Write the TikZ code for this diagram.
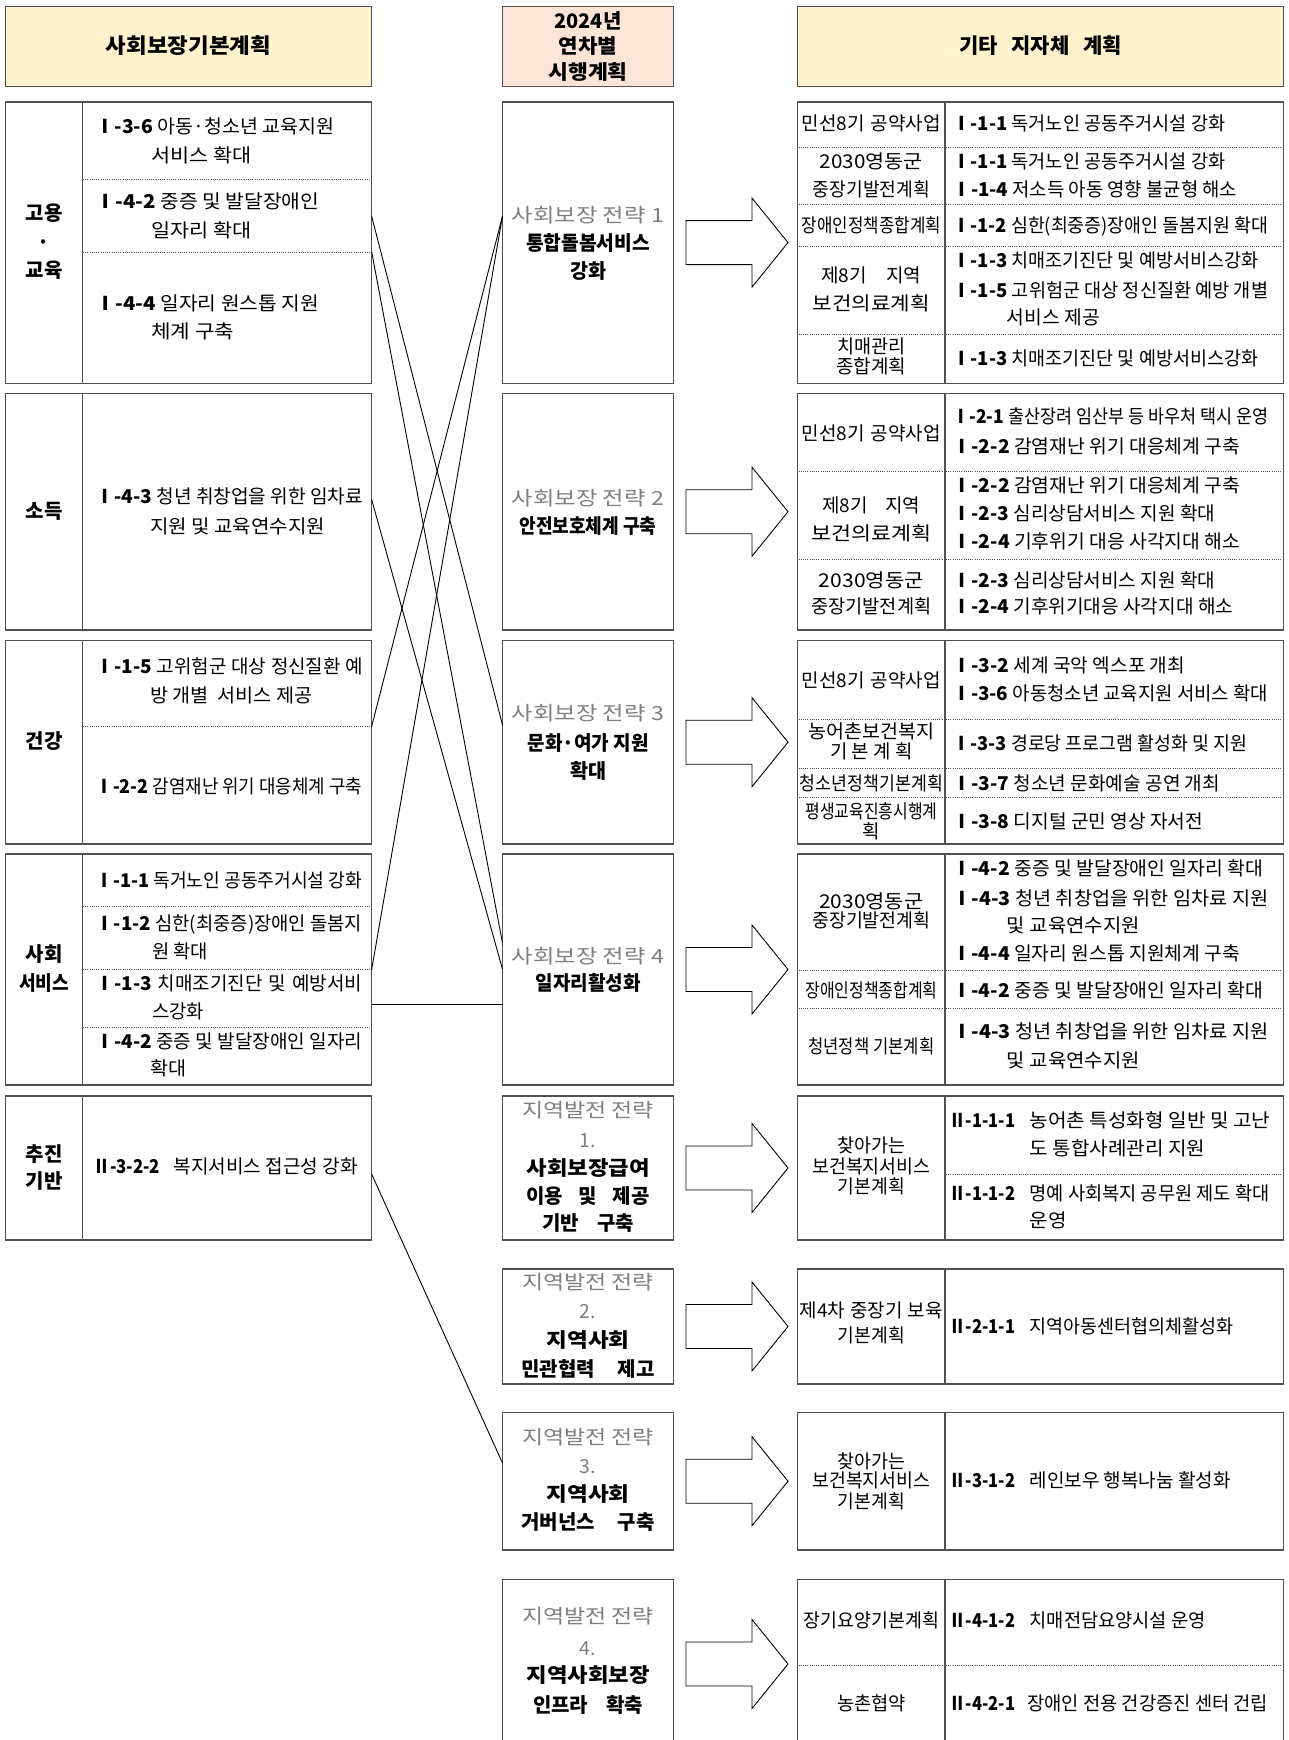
\documentclass[tikz,border=0pt]{standalone}
\usepackage{fontspec}
\setmainfont{Noto Sans CJK KR}
\usepackage{graphicx}
\definecolor{hdry}{HTML}{FFF2CC}
\definecolor{hdrp}{HTML}{FCE4D6}
\definecolor{bordc}{HTML}{505050}
\definecolor{graytxt}{HTML}{808080}
\newlength\fitlen
\newcommand\fs{\fontsize{19}{22}\selectfont}
\newcommand\hfs{\fontsize{21}{25}\selectfont\bfseries}
\newcommand\mfs{\fontsize{20}{24}\selectfont\bfseries}
\newcommand\sq[2]{\resizebox{#1pt}{\height}{#2}}
\newcommand\jw[2]{\settowidth\fitlen{#2}\ifdim\fitlen>#1pt\relax\resizebox{#1pt}{\height}{#2}\else\makebox[#1pt][s]{#2}\fi}
\newcommand\TL[6][]{\node[ln,#1] (#2) at (#3,#4) {\sq{#5}{#6}};}
\newcommand\TJ[6][]{\node[ln,#1] (#2) at (#3,#4) {\jw{#5}{#6}};}
\newcommand\TC[6][]{\node[lc,#1] (#2) at (#3,#4) {\sq{#5}{#6}};}
\newcommand\TCJ[6][]{\node[lc,#1] (#2) at (#3,#4) {\jw{#5}{#6}};}
\newcommand\TCn[5][]{\node[lc,#1] (#2) at (#3,#4) {#5};}
\newcommand\bx[6][]{\node[box,#1,minimum width={#5-#3},minimum height={#6-#4}] (#2) at ({(#3+#5)/2},{(#4+#6)/2}) {};}
\begin{document}
\begin{tikzpicture}[x=1pt,y=-1pt,
  box/.style={draw=bordc, line width=1.3pt, inner sep=0pt, outer sep=0pt, anchor=center},
  sepl/.style={draw=black!70, line width=0.9pt, dash pattern=on 1pt off 1.2pt},
  divl/.style={draw=bordc, line width=1.3pt},
  conn/.style={draw=black, line width=0.9pt},
  barrow/.style={draw=black, line width=0.9pt, fill=white},
  ln/.style={anchor=base west, inner sep=0pt, yshift=-7pt, font=\fs},
  lc/.style={anchor=base, inner sep=0pt, yshift=-7pt, font=\fs},
  gtx/.style={text=graytxt, font=\fontsize{19.5}{22}\selectfont}]
\useasboundingbox (0,0) rectangle (1289,1740);
\fill[white] (0,0) rectangle (1289,1740);

% ---------- headers
\bx[fill=hdry]{Lh}{5.5}{6.7}{371.6}{86.5}
\bx[fill=hdrp]{Mh}{502.5}{6.7}{673.3}{86.5}
\bx[fill=hdry]{Rh}{797.6}{6.7}{1283.5}{86.5}
\TC[font=\hfs]{tLh}{188.5}{46.6}{165}{사회보장기본계획}
\TC[font=\mfs]{tMh1}{588}{21.5}{67}{2024년}
\TC[font=\mfs]{tMh2}{588}{46.6}{58.5}{연차별}
\TC[font=\mfs]{tMh3}{588}{72}{79.4}{시행계획}
\TCJ[font=\hfs]{tRh}{1040.5}{46.6}{163}{기타 지자체 계획}

% ---------- left boxes
\bx{LG1}{5.5}{102}{371.6}{383.3}
\bx{LG2}{5.5}{393.5}{371.6}{630}
\bx{LG3}{5.5}{640.5}{371.6}{844}
\bx{LG4}{5.5}{854}{371.6}{1085}
\bx{LG5}{5.5}{1096}{371.6}{1240}
\foreach \a/\b in {102/383.3,393.5/630,640.5/844,854/1085,1096/1240}
  \draw[divl] (82.5,\a) -- (82.5,\b);
\foreach \y in {179,252,726.7,906,969.5,1027.5}
  \draw[sepl] (83,\y) -- (371,\y);

% categories
\TCn[font=\mfs]{c1a}{44}{213}{고용}
\TCn[font=\mfs]{c1b}{44}{242}{·}
\TCn[font=\mfs]{c1c}{44}{270}{교육}
\TCn[font=\mfs]{c2}{44}{511}{소득}
\TCn[font=\mfs]{c3}{44}{741}{건강}
\TCn[font=\mfs]{c4a}{44}{954}{사회}
\TC[font=\mfs]{c4b}{44}{983}{50}{서비스}
\TCn[font=\mfs]{c5a}{44}{1154}{추진}
\TCn[font=\mfs]{c5b}{44}{1181}{기반}

% left contents
\TL{l1}{95}{126.7}{239}{\textbf{Ⅰ-3-6} 아동·청소년 교육지원}
\TL{l2}{151}{155}{100}{서비스 확대}
\TL{l3}{95}{201.7}{224}{\textbf{Ⅰ-4-2} 중증 및 발달장애인}
\TL{l4}{151}{230}{100}{일자리 확대}
\TL{l5}{95}{303}{224}{\textbf{Ⅰ-4-4} 일자리 원스톱 지원}
\TL{l6}{151}{331.7}{83}{체계 구축}
\TL{l7}{95}{496.7}{268}{\textbf{Ⅰ-4-3} 청년 취창업을 위한 임차료}
\TL{l8}{150}{526.7}{175}{지원 및 교육연수지원}
\TJ{l9}{95}{666.7}{268}{\textbf{Ⅰ-1-5} 고위험군 대상 정신질환 예}
\TL{l10}{150}{695}{162}{방 개별 \ 서비스 제공}
\TL{l11}{95}{786.7}{267}{\textbf{Ⅰ-2-2} 감염재난 위기 대응체계 구축}
\TL{l12}{95}{880}{267}{\textbf{Ⅰ-1-1} 독거노인 공동주거시설 강화}
\TJ{l13}{95}{923.3}{267}{\textbf{Ⅰ-1-2} 심한(최중증)장애인 돌봄지}
\TL{l14}{152}{951.7}{56}{원 확대}
\TJ{l15}{95}{983.3}{267}{\textbf{Ⅰ-1-3} 치매조기진단 및 예방서비}
\TL{l16}{152}{1011.7}{52}{스강화}
\TL{l17}{95}{1041.7}{267}{\textbf{Ⅰ-4-2} 중증 및 발달장애인 일자리}
\TL{l18}{150}{1068.3}{36}{확대}
\TL{l19}{93}{1166.7}{67}{\textbf{Ⅱ-3-2-2}}
\TL{l20}{173.5}{1166.7}{184}{복지서비스 접근성 강화}

% ---------- middle boxes
\bx{MG1}{502.5}{102}{673.3}{383.3}
\bx{MG2}{502.5}{393.5}{673.3}{630}
\bx{MG3}{502.5}{640.5}{673.3}{844}
\bx{MG4}{502.5}{854}{673.3}{1085}
\bx{MG5}{502.5}{1096}{673.3}{1240}
\bx{MG6}{502.5}{1269}{673.3}{1384}
\bx{MG7}{502.5}{1412.5}{673.3}{1550}
\bx{MG8}{502.5}{1579.5}{673.3}{1760}

\TC[gtx]{m1a}{588}{215}{152}{사회보장 전략 1}
\TC[font=\mfs]{m1b}{588}{243}{124}{통합돌봄서비스}
\TC[font=\mfs]{m1c}{588}{271.7}{36}{강화}
\TC[gtx]{m2a}{588}{498.3}{152}{사회보장 전략 2}
\TCJ[font=\mfs]{m2b}{588}{526.7}{137}{안전보호체계 구축}
\TC[gtx]{m3a}{588}{713.3}{152}{사회보장 전략 3}
\TCJ[font=\mfs]{m3b}{588}{743.3}{121}{문화·여가 지원}
\TC[font=\mfs]{m3c}{588}{771.7}{36}{확대}
\TC[gtx]{m4a}{588}{956.7}{152}{사회보장 전략 4}
\TC[font=\mfs]{m4b}{588}{983.3}{105}{일자리활성화}

\TC[gtx]{m5a}{588}{1110}{132}{지역발전 전략}
\TCn[gtx]{m5b}{588}{1140}{1.}
\TC[font=\mfs]{m5c}{588}{1168.3}{123}{사회보장급여}
\TCJ[font=\mfs]{m5d}{588}{1196.7}{123}{이용 및 제공}
\TCJ[font=\mfs]{m5e}{588}{1223.3}{92}{기반 구축}

\TC[gtx]{m6a}{588}{1282}{132}{지역발전 전략}
\TCn[gtx]{m6b}{588}{1311.5}{2.}
\TC[font=\mfs]{m6c}{588}{1340}{83}{지역사회}
\TCJ[font=\mfs]{m6d}{588}{1369.6}{133}{민관협력 제고}

\TC[gtx]{m7a}{588}{1437.7}{132}{지역발전 전략}
\TCn[gtx]{m7b}{588}{1466.4}{3.}
\TC[font=\mfs]{m7c}{588}{1494.6}{83}{지역사회}
\TCJ[font=\mfs]{m7d}{588}{1522.8}{133}{거버넌스 구축}

\TC[gtx]{m8a}{588}{1616.6}{132}{지역발전 전략}
\TCn[gtx]{m8b}{588}{1648}{4.}
\TC[font=\mfs]{m8c}{588}{1675.5}{123}{지역사회보장}
\TCJ[font=\mfs]{m8d}{588}{1705}{110}{인프라 확축}

% ---------- block arrows
\foreach \c in {242.6,511.7,742.2,969.5,1168,1326.5,1481.2,1664}
  \draw[barrow] (686,{\c-22}) -- (752,{\c-22}) -- (752,{\c-44.5}) -- (788,\c)
     -- (752,{\c+44.5}) -- (752,{\c+22}) -- (686,{\c+22}) -- cycle;

% ---------- right boxes
\bx{RG1}{797.6}{102}{1283.5}{383.3}
\bx{RG2}{797.6}{393.5}{1283.5}{630}
\bx{RG3}{797.6}{640.5}{1283.5}{844}
\bx{RG4}{797.6}{854}{1283.5}{1085}
\bx{RG5}{797.6}{1096}{1283.5}{1240}
\bx{RG6}{797.6}{1269}{1283.5}{1384}
\bx{RG7}{797.6}{1412.5}{1283.5}{1550}
\bx{RG8}{797.6}{1579.5}{1283.5}{1760}
\foreach \a/\b in {102/383.3,393.5/630,640.5/844,854/1085,1096/1240,1269/1384,1412.5/1550,1579.5/1760}
  \draw[divl] (945,\a) -- (945,\b);
\foreach \y in {147.3,204.3,246.7,334.3,471.7,559,719,768.3,797.3,970,1008.3,1665}
  \draw[sepl] (798.5,\y) -- (1283,\y);
\draw[sepl] (946,1174) -- (1283,1174);

% right: plan names
\TCJ{r1n1}{871.4}{123.3}{139}{민선8기 공약사업}
\TC{r1n2}{871.4}{161}{103}{2030영동군}
\TC{r1n3}{871.4}{189}{117}{중장기발전계획}
\TC{r1n4}{871.4}{225}{139}{장애인정책종합계획}
\TCJ{r1n5}{871.4}{275}{100}{제8기 지역}
\TC{r1n6}{871.4}{303.3}{117}{보건의료계획}
\TC{r1n7}{871.4}{346.7}{68}{치매관리}
\TC{r1n8}{871.4}{366.7}{70}{종합계획}
\TCJ{r2n1}{871.4}{433.3}{139}{민선8기 공약사업}
\TCJ{r2n2}{871.4}{505}{98}{제8기 지역}
\TC{r2n3}{871.4}{533.3}{120}{보건의료계획}
\TC{r2n4}{871.4}{580}{105}{2030영동군}
\TC{r2n5}{871.4}{606.7}{120}{중장기발전계획}
\TCJ{r3n1}{871.4}{680}{139}{민선8기 공약사업}
\TC{r3n2}{871.4}{731.7}{126}{농어촌보건복지}
\TCJ{r3n3}{871.4}{751.7}{82}{기 본 계 획}
\TC{r3n4}{871.4}{783.3}{143}{청소년정책기본계획}
\TC{r3n5}{871.4}{811.7}{132}{평생교육진흥시행계}
\TCn{r3n6}{871.4}{831.7}{획}
\TC{r4n1}{871.4}{901.7}{104}{2030영동군}
\TC{r4n2}{871.4}{920}{118}{중장기발전계획}
\TC{r4n3}{871.4}{990}{132}{장애인정책종합계획}
\TCJ{r4n4}{871.4}{1046.7}{126}{청년정책 기본계획}
\TC{r5n1}{871.4}{1145}{68}{찾아가는}
\TC{r5n2}{871.4}{1166.7}{118}{보건복지서비스}
\TC{r5n3}{871.4}{1186.7}{67}{기본계획}
\TCJ{r6n1}{871.4}{1310}{143}{제4차 중장기 보육}
\TC{r6n2}{871.4}{1335}{67}{기본계획}
\TC{r7n1}{871.4}{1461}{68}{찾아가는}
\TC{r7n2}{871.4}{1480}{118}{보건복지서비스}
\TC{r7n3}{871.4}{1501}{67}{기본계획}
\TC{r8n1}{871.4}{1620.8}{135}{장기요양기본계획}
\TC{r8n2}{871.4}{1703}{68.6}{농촌협약}

% right: items
\TL{ri1}{952}{123.3}{273}{\textbf{Ⅰ-1-1} 독거노인 공동주거시설 강화}
\TL{ri2}{952}{161}{273}{\textbf{Ⅰ-1-1} 독거노인 공동주거시설 강화}
\TL{ri3}{952}{189.3}{285}{\textbf{Ⅰ-1-4} 저소득 아동 영향 불균형 해소}
\TL{ri4}{952}{225}{316}{\textbf{Ⅰ-1-2} 심한(최중증)장애인 돌봄지원 확대}
\TL{ri5}{952}{260.7}{306}{\textbf{Ⅰ-1-3} 치매조기진단 및 예방서비스강화}
\TL{ri6}{952}{290}{316}{\textbf{Ⅰ-1-5} 고위험군 대상 정신질환 예방 개별}
\TL{ri7}{1006.7}{317.7}{93}{서비스 제공}
\TL{ri8}{952}{358.3}{306}{\textbf{Ⅰ-1-3} 치매조기진단 및 예방서비스강화}
\TL{ri9}{952}{416.7}{316}{\textbf{Ⅰ-2-1} 출산장려 임산부 등 바우처 택시 운영}
\TL{ri10}{952}{446.7}{288}{\textbf{Ⅰ-2-2} 감염재난 위기 대응체계 구축}
\TL{ri11}{952}{485}{288}{\textbf{Ⅰ-2-2} 감염재난 위기 대응체계 구축}
\TL{ri12}{952}{513.3}{263}{\textbf{Ⅰ-2-3} 심리상담서비스 지원 확대}
\TL{ri13}{952}{541.7}{288}{\textbf{Ⅰ-2-4} 기후위기 대응 사각지대 해소}
\TL{ri14}{952}{580}{263}{\textbf{Ⅰ-2-3} 심리상담서비스 지원 확대}
\TL{ri15}{952}{606.7}{281}{\textbf{Ⅰ-2-4} 기후위기대응 사각지대 해소}
\TL{ri16}{952}{665}{233}{\textbf{Ⅰ-3-2} 세계 국악 엑스포 개최}
\TL{ri17}{952}{693.3}{316}{\textbf{Ⅰ-3-6} 아동청소년 교육지원 서비스 확대}
\TL{ri18}{952}{743.3}{295}{\textbf{Ⅰ-3-3} 경로당 프로그램 활성화 및 지원}
\TL{ri19}{952}{783.3}{268}{\textbf{Ⅰ-3-7} 청소년 문화예술 공연 개최}
\TL{ri20}{952}{821.7}{251}{\textbf{Ⅰ-3-8} 디지털 군민 영상 자서전}
\TL{ri21}{952}{868.3}{311}{\textbf{Ⅰ-4-2} 중증 및 발달장애인 일자리 확대}
\TL{ri22}{952}{898.3}{316}{\textbf{Ⅰ-4-3} 청년 취창업을 위한 임차료 지원}
\TL{ri23}{1006.7}{925}{133}{및 교육연수지원}
\TL{ri24}{952}{953.3}{288}{\textbf{Ⅰ-4-4} 일자리 원스톱 지원체계 구축}
\TL{ri25}{952}{990}{311}{\textbf{Ⅰ-4-2} 중증 및 발달장애인 일자리 확대}
\TL{ri26}{952}{1031.7}{316}{\textbf{Ⅰ-4-3} 청년 취창업을 위한 임차료 지원}
\TL{ri27}{1006.7}{1060}{133}{및 교육연수지원}
\TL{ri28}{949}{1120}{66}{\textbf{Ⅱ-1-1-1}}
\TL{ri29}{1029.3}{1120}{241}{농어촌 특성화형 일반 및 고난}
\TL{ri30}{1029.3}{1148.3}{176}{도 통합사례관리 지원}
\TL{ri31}{949}{1193.3}{66}{\textbf{Ⅱ-1-1-2}}
\TL{ri32}{1029.3}{1193.3}{240}{명예 사회복지 공무원 제도 확대}
\TL{ri33}{1029.3}{1220}{37}{운영}
\TL{ri34}{949}{1326.7}{66}{\textbf{Ⅱ-2-1-1}}
\TL{ri35}{1029.3}{1326.7}{204}{지역아동센터협의체활성화}
\TL{ri36}{949}{1480}{66}{\textbf{Ⅱ-3-1-2}}
\TL{ri37}{1029.5}{1480}{201}{레인보우 행복나눔 활성화}
\TL{ri38}{949}{1620.8}{66}{\textbf{Ⅱ-4-1-2}}
\TL{ri39}{1029.5}{1620.8}{176}{치매전담요양시설 운영}
\TL{ri40}{949}{1703}{66}{\textbf{Ⅱ-4-2-1}}
\TL{ri41}{1027}{1703}{241}{장애인 전용 건강증진 센터 건립}

% ---------- connectors
\coordinate (a1) at (371.6,216);    \coordinate (b1) at (502.5,725);
\coordinate (a2) at (371.6,251.7);  \coordinate (b2) at (502.5,943);
\coordinate (a3) at (371.6,499.3);  \coordinate (b3) at (502.5,969.3);
\coordinate (a4) at (371.6,726.7);  \coordinate (b4) at (502.5,216);
\coordinate (a5) at (371.6,970);
\coordinate (a6) at (371.6,1004.3); \coordinate (b6) at (502.5,1004.3);
\coordinate (a7) at (371.6,1174);   \coordinate (b7) at (502.5,1463);
\draw[conn] (a1) -- (b1);
\draw[conn] (a2) -- (b2);
\draw[conn] (a3) -- (b3);
\draw[conn] (a4) -- (b4);
\draw[conn] (a5) -- (b4);
\draw[conn] (a6) -- (b6);
\draw[conn] (a7) -- (b7);
\end{tikzpicture}
\end{document}
